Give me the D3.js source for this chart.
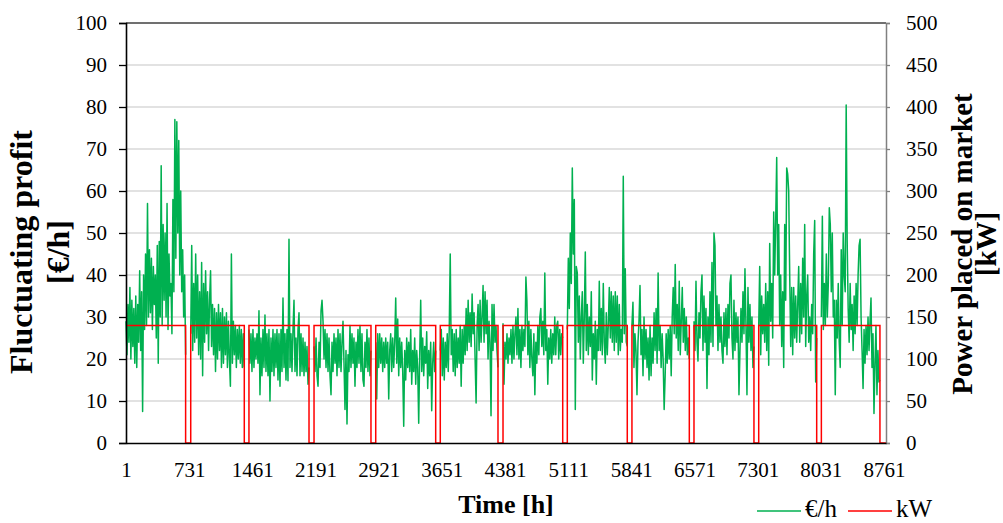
<!DOCTYPE html>
<html>
<head>
<meta charset="utf-8">
<script src="https://cdn.jsdelivr.net/npm/d3@7"></script>
<style>
  body { margin: 0; background: #fff; }
  svg text { font-family: "Liberation Serif", "Times New Roman", serif; fill: #000; }
</style>
</head>
<body>
<svg id="chart" width="1003" height="523"></svg>
<script>
// ---- data -------------------------------------------------------------
const hourTicks = [1, 731, 1461, 2191, 2921, 3651, 4381, 5111, 5841, 6571, 7301, 8031, 8761];
const profitTicks = [0, 10, 20, 30, 40, 50, 60, 70, 80, 90, 100];
const powerTicks = [0, 50, 100, 150, 200, 250, 300, 350, 400, 450, 500];

// hours during which power is placed on the market, month by month
const runStart = [1, 749, 1422, 2174, 2887, 3633, 4358, 5101, 5848, 6565, 7313, 8037];
const runEnd   = [690, 1368, 2116, 2832, 3580, 4300, 5048, 5794, 6511, 7258, 7983, 8714];
const placedPower = 140;   // kW
const lastHour = 8784;

// fluctuating profit (€/h), evenly sampled over each month's running period
const profitJan = [29,21,33,24,37,20,34,23,32,19, 35,18,33,24,41,22,36,7.5,40,27,
                   45,28,57,30,46,31,44,27,42,33, 40,25,47,19,48,30,66,28,52,34,
                   50,30,57,27,45,35,38,26,58,36, 77,44,76.5,50,72,40,60,36,46,30,40,21];
const profitFeb = [26,47,22,38,24,45,25,40,21,36, 20,43,16,38,24,41,26,36,22,34,
                   41,23,33,21,32,17,31,20,33,22, 31,18,32,19,30,21,31,18,29,20,
                   13.5,45,19,29,21,28,18,27,20,28, 19,27,18,26,18];
const profitMar = [27,19,26,17,27,18,25,20,26,19, 31.5,11.5,25,16,27,18,30.5,17,26,16,
                   27,10,25,17,27,16,26,18,27,15, 26,13.5,27,17,34.5,18,26,15,27,14.8,
                   48.5,18,26,17,27,34,17,25,16,27, 31,16,26,17,25,16,24,17,23,14,18];
const profitApr = [23,17,25,16,13.5,24,18,31.5,34,29, 20,27,18,26,17,25,16,11.5,24,17,
                   26,19,25,16,27,18,26,17,24,29, 19,8,22,4.5,21,17,28,18,26,19,
                   25,13.5,24,18,27,19,28,17,26,15, 13.5,24,18,27,17,25,16,22];
const profitMay = [24,10.5,26,18,26,19,25,17,24,18, 25,19,24,10.5,22,26,17,25,18,24,
                   34.5,19,29.5,16,25,18,24,17,4,22, 15,25,18,24,17,27,14,22,17,25,
                   14,22,18,4.7,21,34,17,25,16,23, 19,26.5,13,22,16,24,7.7,19,24,17,22];
const profitJun = [22,27,16,25,15,24,18,26,17,27, 45,21,27,17,26,16,27,18,25,19,
                   28,13.5,27,19,28,21,32,22,34,24, 31,23,35.5,26,31,20,9.5,28,33,22,
                   34,24,30,37.5,24,36,26,34,20,29, 24,6.5,33,22,33,24,28,22,18];
const profitJul = [28.5,14,24,20,26,19,25,21,27,19, 28,20,26,30,21,32,20,27,18,28,
                   22,27,23,39.5,34,21,29,18,27,20, 16,26,11.5,24,19,28,21,30,32,23,
                   29,21,40.5,22,27,14,25,20,27,19, 26,21,30,21,28,29,20,27,21,26,25];
const profitAug = [27,44,32,50,38,65.5,45,58,8,42, 40.5,24,35,20,30,36,19,30,45.5,22,
                   33,21,30,23,36,15,26,20,29,14, 27,22,38.5,22,32,21,38,24,19,31,
                   21,28,37,25,36,24,35,22,36,24, 35,21,33,22,27,24,63.5,26,41.5,24,23];
const profitSep = [28,33.5,18,26,22,11.5,24,29,37.5,21, 27,16,30,20,27,18,25,15,28,16,
                   25,19,31,22,32,19,40.5,22,28,18, 26,20,8,16,26,19,27,20,28,16,
                   30,37,26,42.5,25,33,22,38.5,21,29, 37,24,32,22,30,21,25,20];
const profitOct = [29,22,38.5,24,19.5,31,25,36,40,22, 35,24,32,13,30,21,36,24,43,23,
                   50,47,28,35,22,33,24,30,22,19, 31,23,32,21,33,25,38,40,25,20,
                   34,22,31,24,30,11.5,22,32,24,36, 26,41.5,28,11.5,37,24,33,22,30,18,23];
const profitNov = [28,42,21,35,26,33,24,38,22,36, 18.5,47.5,29,38,25,55,40,53,68,40,
                   52,28,40,23,36,18,52,34,65.5,64, 60,40,23,37,21,37,25,35,24,33,
                   42,24,38,26,44,30,52,23,35,40, 24,30,22,33,26,45,53,14.5,25];
const profitDec = [30,54,27,38,28,45,30,38,56,52, 36,50,30,34,11.5,34,25,38,24,18,
                   46,28,50,40,36,80.5,48,32,24,38, 27,33,22,35,26,38,28,40,47,48.5,
                   30,22,13,27,19,28,21,30,22,29, 34.5,18,26,7,19,28,11.5,22,14.5,15];

const profitByMonth = [profitJan, profitFeb, profitMar, profitApr, profitMay, profitJun,
                       profitJul, profitAug, profitSep, profitOct, profitNov, profitDec];

// ---- layout -----------------------------------------------------------
const plot = { left: 126, right: 886, top: 23, bottom: 443 };
const svg = d3.select("#chart");

const x = d3.scaleLinear().domain([1, lastHour]).range([plot.left, plot.right]);
const yProfit = d3.scaleLinear().domain([0, 100]).range([plot.bottom, plot.top]);
const yPower = d3.scaleLinear().domain([0, 500]).range([plot.bottom, plot.top]);

// horizontal gridlines
svg.append("g")
  .selectAll("line")
  .data(profitTicks.filter(d => d > 0 && d < 100))
  .join("line")
  .attr("x1", plot.left).attr("x2", plot.right)
  .attr("y1", d => yProfit(d)).attr("y2", d => yProfit(d))
  .attr("stroke", "#d9d9d9").attr("stroke-width", 1.3);

// top frame line
svg.append("line")
  .attr("x1", plot.left).attr("x2", plot.right)
  .attr("y1", yProfit(100)).attr("y2", yProfit(100))
  .attr("stroke", "#404040").attr("stroke-width", 1.3);

// ---- series -----------------------------------------------------------
const profitLine = d3.line().x(d => x(d[0])).y(d => yProfit(d[1]));

profitByMonth.forEach((vals, m) => {
  const h0 = runStart[m], h1 = runEnd[m];
  const step = (h1 - h0) / (vals.length - 1);
  const pts = vals.map((v, j) => [h0 + j * step, v]);
  svg.append("path")
    .attr("d", profitLine(pts))
    .attr("fill", "none")
    .attr("stroke", "#00b050")
    .attr("stroke-width", 1.5)
    .attr("stroke-linejoin", "round");
});

const powerPts = [];
runStart.forEach((s, m) => {
  if (m > 0) powerPts.push([s, 0]);
  powerPts.push([s, placedPower]);
  powerPts.push([runEnd[m], placedPower]);
  powerPts.push([runEnd[m], 0]);
});
powerPts.push([lastHour, 0]);

svg.append("path")
  .attr("d", d3.line().x(d => x(d[0])).y(d => yPower(d[1]))(powerPts))
  .attr("fill", "none")
  .attr("stroke", "#ff0000")
  .attr("stroke-width", 1.5);

// ---- axes -------------------------------------------------------------
const tickFont = "21px";

const leftAxis = svg.append("g")
  .attr("transform", `translate(${plot.left},0)`)
  .call(d3.axisLeft(yProfit).tickValues(profitTicks).tickSize(7).tickPadding(12));
leftAxis.select(".domain").attr("stroke", "#000").attr("stroke-width", 1.6);
leftAxis.selectAll(".tick line").attr("stroke", "#000").attr("stroke-width", 1.3);
leftAxis.selectAll("text").style("font-size", tickFont).attr("font-family", null);

const rightAxis = svg.append("g")
  .attr("transform", `translate(${plot.right},0)`)
  .call(d3.axisRight(yPower).tickValues(powerTicks).tickSize(4).tickPadding(16));
rightAxis.select(".domain").attr("stroke", "#808080").attr("stroke-width", 1.5);
rightAxis.selectAll(".tick line").attr("stroke", "#808080").attr("stroke-width", 1.3);
rightAxis.selectAll("text").style("font-size", tickFont).attr("font-family", null);

const bottomAxis = svg.append("g")
  .attr("transform", `translate(0,${plot.bottom})`)
  .call(d3.axisBottom(x).tickValues(hourTicks).tickSize(0).tickPadding(19).tickFormat(d3.format("d")));
bottomAxis.select(".domain").attr("stroke", "#000").attr("stroke-width", 1.6);
bottomAxis.selectAll("text").style("font-size", tickFont).attr("font-family", null);

// ---- titles -----------------------------------------------------------
svg.append("text")
  .attr("x", 506).attr("y", 513)
  .attr("text-anchor", "middle")
  .style("font-size", "26px").style("font-weight", "bold")
  .text("Time [h]");

const leftTitle = svg.append("text")
  .attr("transform", "translate(0,252) rotate(-90)")
  .attr("text-anchor", "middle")
  .style("font-size", "32px").style("font-weight", "bold");
leftTitle.append("tspan").attr("x", 0).attr("y", 32).text("Fluctuating profit");
leftTitle.append("tspan").attr("x", 0).attr("y", 69).text("[€/h]");

const rightTitle = svg.append("text")
  .attr("transform", "translate(0,244) rotate(-90)")
  .attr("text-anchor", "middle")
  .style("font-size", "29px").style("font-weight", "bold");
rightTitle.append("tspan").attr("x", 0).attr("y", 972).text("Power placed on market");
rightTitle.append("tspan").attr("x", 0).attr("y", 996).text("[kW]");

// ---- legend -----------------------------------------------------------
const legend = svg.append("g");
const legendItems = [
  { label: "€/h", color: "#00b050", x0: 757 },
  { label: "kW", color: "#ff0000", x0: 848 }
];
legendItems.forEach(it => {
  legend.append("line")
    .attr("x1", it.x0).attr("x2", it.x0 + 44)
    .attr("y1", 511).attr("y2", 511)
    .attr("stroke", it.color).attr("stroke-width", 1.5);
  legend.append("text")
    .attr("x", it.x0 + 48).attr("y", 517)
    .style("font-size", "25px")
    .text(it.label);
});
</script>
</body>
</html>
